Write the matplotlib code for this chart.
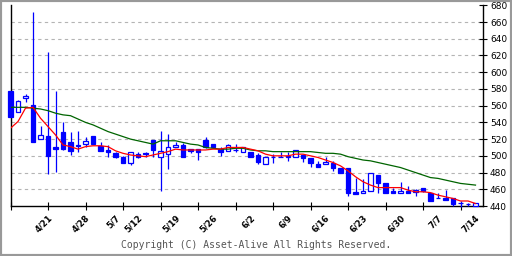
import matplotlib
matplotlib.use("Agg")
import matplotlib.pyplot as plt
from matplotlib.patches import Rectangle

# daily candles (open, high, low, close), 4/14 .. 7/14
opens  = [578, 552, 569, 561, 520, 524, 511, 529, 517, 512,
          514, 524, 512, 507, 503, 499, 491, 502, 503, 519,
          498, 502, 510, 513, 508, 508, 519, 514, 508, 506,
          507, 504, 505, 501, 490, 498, 499, 498, 499, 501,
          497, 490, 490, 491, 486, 486, 457, 455, 458, 477,
          467, 458, 455, 458, 457, 461, 456, 450, 450, 449,
          443, 442, 440]
highs  = [578, 567, 574, 672, 536, 624, 577, 541, 529, 530,
          523, 524, 517, 513, 505, 500, 505, 505, 504, 519,
          530, 526, 517, 515, 508, 508, 522, 514, 510, 514,
          514, 510, 505, 503, 498, 502, 505, 504, 507, 501,
          497, 494, 498, 494, 486, 486, 473, 472, 479, 477,
          467, 462, 469, 464, 460, 461, 456, 456, 459, 449,
          446, 444, 443]
lows   = [547, 552, 564, 516, 520, 478, 481, 507, 501, 504,
          511, 514, 506, 499, 497, 491, 489, 497, 499, 499,
          458, 484, 510, 499, 503, 495, 509, 510, 500, 506,
          504, 504, 499, 490, 490, 492, 499, 494, 499, 493,
          487, 487, 490, 482, 479, 452, 454, 455, 458, 456,
          455, 455, 455, 455, 452, 457, 446, 449, 447, 440,
          439, 440, 440]
closes = [547, 566, 572, 516, 525, 500, 508, 508, 506, 513,
          518, 514, 506, 504, 498, 491, 505, 499, 502, 507,
          506, 510, 513, 499, 506, 504, 511, 511, 504, 513,
          507, 510, 499, 493, 498, 498, 499, 500, 507, 497,
          492, 487, 493, 486, 479, 456, 454, 458, 479, 467,
          455, 455, 458, 455, 459, 458, 446, 450, 447, 442,
          443, 442, 443]

ma_short = [533, 541, 557, 558, 545, 535, 525, 513, 511, 508,
            511, 512, 512, 511, 506, 503, 501, 500, 499, 501,
            503, 505, 508, 507, 507, 507, 507, 508, 508, 510,
            510, 510, 508, 506, 502, 500, 500, 500, 502, 502,
            500, 498, 495, 492, 488, 482, 475, 469, 465, 462,
            462, 462, 462, 459, 457, 457, 456, 453, 451, 449,
            446, 446, 443]
ma_long = [558, 558, 558, 557, 556, 554, 551, 549, 548, 544,
           540, 537, 533, 529, 526, 523, 520, 518, 516, 514,
           518, 518, 518, 516, 514, 513, 510, 509, 508, 508,
           509, 509, 507, 506, 506, 505, 505, 505, 505, 505,
           505, 504, 503, 503, 502, 499, 497, 495, 494, 492,
           490, 488, 486, 483, 480, 477, 474, 473, 471, 469,
           467, 466, 465]

date_labels = ["4/21", "4/28", "5/7", "5/12", "5/19", "5/26", "6/2",
               "6/9", "6/16", "6/23", "6/30", "7/7", "7/14"]
date_index = [5, 10, 14, 17, 22, 27, 32, 37, 42, 47, 52, 57, 62]

yticks = list(range(440, 681, 20))

fig = plt.figure(figsize=(5.12, 2.56), dpi=100)
ax = fig.add_axes([10.5 / 512, 50 / 256, 472.5 / 512, 200.7 / 256])

n = len(opens)
x = list(range(n))
blue = "#0000ff"

# grid
for v in yticks[1:-1]:
    ax.axhline(v, color="#b4b4b4", lw=0.8, ls=(0, (3, 3)), zorder=0)

# wicks
ax.vlines(x, lows, highs, color=blue, lw=0.9, zorder=3, clip_on=False)

# bodies
for i in range(n):
    o, c = opens[i], closes[i]
    fc = blue if c < o else "white"
    ax.bar(i, abs(c - o), bottom=min(o, c), width=0.55,
           facecolor=fc, edgecolor=blue, linewidth=0.9, zorder=3,
           clip_on=False)

ax.plot(x, ma_long, color="#006400", lw=0.9, zorder=4)
ax.plot(x, ma_short, color="#ff0000", lw=0.9, zorder=4)

ax.set_xlim(0, 63)
ax.set_ylim(440, 680)

ax.spines["top"].set_visible(False)
for s in ["left", "right", "bottom"]:
    ax.spines[s].set_linewidth(1.0)
    ax.spines[s].set_color("black")

ax.set_xticks(range(0, 61, 5))
ax.set_xticklabels([])
ax.tick_params(axis="x", direction="inout", length=6, width=0.8)

ax.yaxis.tick_right()
ax.set_yticks(yticks)
ax.set_yticklabels([str(v) for v in yticks])
ax.tick_params(axis="y", direction="inout", length=6, width=0.8,
               labelsize=6.5, pad=2)

for lab, idx in zip(date_labels, date_index):
    ax.annotate(lab, xy=(idx, 0), xycoords=("data", "axes fraction"),
                xytext=(6, -7), textcoords="offset pixels",
                rotation=45, ha="right", va="top", fontsize=6,
                fontweight="bold")

fig.text(0.5, (256 - 245.5) / 256, "Copyright (C) Asset-Alive All Rights Reserved.",
         ha="center", va="center", family="DejaVu Sans Mono", fontsize=7,
         color="#555555")

fig.patches.append(Rectangle((0, 0), 1, 1, transform=fig.transFigure,
                             fill=False, edgecolor="#999999", lw=3))

fig.savefig("out.png", dpi=100)
